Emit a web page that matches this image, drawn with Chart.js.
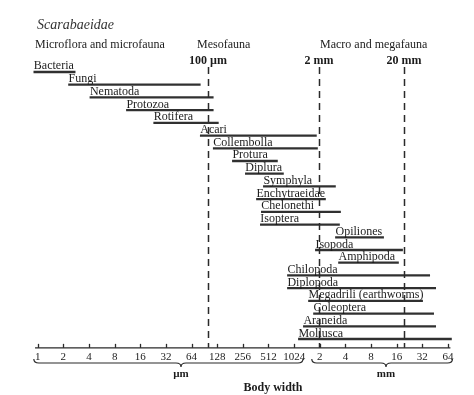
<!DOCTYPE html>
<html>
<head>
<meta charset="utf-8">
<script src="https://cdn.jsdelivr.net/npm/chart.js@4/dist/chart.umd.min.js"></script>
<style>
html,body{margin:0;padding:0;background:#fff;}
canvas{display:block;}
</style>
</head>
<body>
<canvas id="c" width="474" height="395"></canvas>
<script>
// ---- data (body width in micrometres) ----
const categories = ['Bacteria','Fungi','Nematoda','Protozoa','Rotifera','Acari','Collembolla','Protura','Diplura','Symphyla','Enchytraeidae','Chelonethi','Isoptera','Opiliones','Isopoda','Amphipoda','Chilopoda','Diplopoda','Megadrili (earthworms)','Coleoptera','Araneida','Mollusca'];
const minWidthUm = [0.9, 2.3, 4.1, 11, 23, 81, 115, 193, 274, 446, 370, 422, 411, 3130, 1820, 3400, 855, 855, 1510, 1730, 1315, 1150];
const maxWidthUm = [2.75, 81, 115, 115, 132, 1870, 1925, 652, 767, 3130, 2390, 3590, 3490, 11500, 19200, 17200, 40000, 47000, 33000, 44500, 47000, 72000];
const tickValuesUm = [1,2,4,8,16,32,64,128,256,512,1024,2048,4096,8192,16384,32768,65536];
const tickLabels = ['1','2','4','8','16','32','64','128','256','512','1024','2','4','8','16','32','64'];
const boundaryValuesUm = [100, 2000, 20000];
const boundaryLabels = ['100 µm', '2 mm', '20 mm'];
const groupLabels = ['Microflora and microfauna', 'Mesofauna', 'Macro and megafauna'];
const unitLabels = ['µm', 'mm'];
const axisTitle = 'Body width';
const figureTitle = 'Scarabaeidae';

const log2 = v => Math.log2(v);
const rangeData = categories.map((c, i) => [log2(minWidthUm[i]), log2(maxWidthUm[i])]);

const SERIF = '"Liberation Serif", "DejaVu Serif", serif';
const INK = '#1c1c1c';

const decor = {
  id: 'decor',
  afterDatasetsDraw(chart) {
    const ctx = chart.ctx;
    const xs = chart.scales.x, ys = chart.scales.y;
    const axisY = ys.bottom + 2.5;
    ctx.save();
    // dashed boundary lines
    ctx.strokeStyle = '#2a2a2a';
    ctx.lineWidth = 1.5;
    ctx.setLineDash([7, 5]);
    boundaryValuesUm.forEach(v => {
      const x = Math.round(xs.getPixelForValue(log2(v))) + 0.5;
      ctx.beginPath();
      ctx.moveTo(x, 67);
      ctx.lineTo(x, axisY);
      ctx.stroke();
    });
    ctx.setLineDash([]);
    // bar labels
    ctx.fillStyle = INK;
    ctx.font = '12px ' + SERIF;
    ctx.textBaseline = 'alphabetic';
    ctx.textAlign = 'left';
    categories.forEach((c, i) => {
      const x = xs.getPixelForValue(rangeData[i][0]);
      const y = ys.getPixelForValue(i);
      ctx.fillText(c, x, y - 2.5);
    });
    // axis line and ticks
    ctx.strokeStyle = '#2a2a2a';
    ctx.lineWidth = 1.3;
    ctx.beginPath();
    ctx.moveTo(xs.getPixelForValue(log2(0.93)), axisY);
    ctx.lineTo(xs.getPixelForValue(log2(70000)), axisY);
    ctx.stroke();
    tickValuesUm.forEach(v => {
      const x = Math.round(xs.getPixelForValue(log2(v))) + 0.5;
      ctx.beginPath();
      ctx.moveTo(x, axisY - 4);
      ctx.lineTo(x, axisY);
      ctx.stroke();
    });
    ctx.font = '11px ' + SERIF;
    ctx.textAlign = 'center';
    ctx.textBaseline = 'middle';
    tickValuesUm.forEach((v, i) => {
      ctx.fillText(tickLabels[i], xs.getPixelForValue(log2(v)), axisY + 9);
    });
    // braces
    function brace(x1, x2, xm, y) {
      ctx.beginPath();
      ctx.moveTo(x1, y - 4);
      ctx.quadraticCurveTo(x1, y, x1 + 5, y);
      ctx.lineTo(xm - 5, y);
      ctx.quadraticCurveTo(xm, y, xm, y + 4);
      ctx.quadraticCurveTo(xm, y, xm + 5, y);
      ctx.lineTo(x2 - 5, y);
      ctx.quadraticCurveTo(x2, y, x2, y - 4);
      ctx.stroke();
    }
    ctx.lineWidth = 1.2;
    const bx0 = xs.getPixelForValue(log2(0.9));
    const bx1 = xs.getPixelForValue(log2(1300));
    const bx2 = xs.getPixelForValue(log2(1650));
    const bx3 = xs.getPixelForValue(log2(74000));
    brace(bx0, bx1, 181, 363);
    brace(bx2, bx3, 386, 363);
    ctx.font = 'bold 11px ' + SERIF;
    ctx.fillText(unitLabels[0], 181, 374);
    ctx.fillText(unitLabels[1], 386, 374);
    ctx.font = 'bold 12px ' + SERIF;
    ctx.fillText(axisTitle, 273, 388);
    // boundary labels
    boundaryValuesUm.forEach((v, i) => {
      ctx.fillText(boundaryLabels[i], xs.getPixelForValue(log2(v)), 61);
    });
    // group headers
    ctx.font = '12px ' + SERIF;
    ctx.textAlign = 'left';
    ctx.fillText(groupLabels[0], 35, 45);
    ctx.fillText(groupLabels[1], 197, 45);
    ctx.fillText(groupLabels[2], 320, 45);
    ctx.font = 'italic 14px ' + SERIF;
    ctx.fillStyle = '#333';
    ctx.fillText(figureTitle, 37, 25);
    ctx.restore();
  }
};

new Chart(document.getElementById('c'), {
  type: 'bar',
  data: {
    labels: categories,
    datasets: [{
      data: rangeData,
      backgroundColor: '#303030',
      borderWidth: 0,
      barThickness: 1.6,
      borderSkipped: false
    }]
  },
  options: {
    indexAxis: 'y',
    responsive: false,
    animation: false,
    events: [],
    layout: { padding: { left: 32.6, right: 20.9, top: 65.64, bottom: 49.64 } },
    plugins: { legend: { display: false }, tooltip: { enabled: false } },
    scales: {
      x: { type: 'linear', min: -0.2, max: 16.2, display: false },
      y: { type: 'category', display: false, offset: true }
    }
  },
  plugins: [decor]
});
</script>
</body>
</html>
